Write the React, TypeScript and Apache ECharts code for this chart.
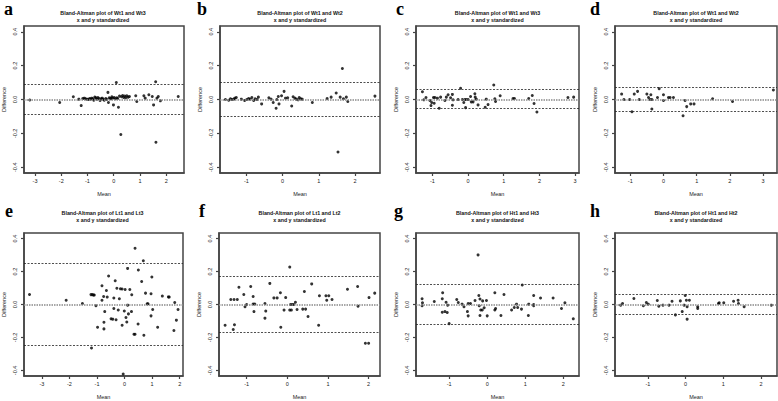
import React, { useEffect, useRef } from 'react';
import * as echarts from 'echarts';

// ---- data: [mean, difference] pairs ----
const wt1wt3A: number[][] = [
  [-3.2, -0.003], [-2.06, -0.018], [-1.54, 0.016], [-1.33, 0.002], [-1.24, -0.036], [-1.18, 0.006],
  [-1.12, 0.008], [-1.08, 0.004], [-1.02, 0.002], [-0.97, 0.0], [-0.92, 0.006], [-0.88, 0.002],
  [-0.84, 0.008], [-0.8, 0.004], [-0.76, -0.004], [-0.72, 0.014], [-0.68, 0.01], [-0.64, 0.002],
  [-0.6, 0.012], [-0.56, 0.006], [-0.52, -0.006], [-0.48, 0.004], [-0.44, 0.008], [-0.4, 0.002],
  [-0.36, -0.004], [-0.3, 0.006], [-0.26, 0.0], [-0.22, 0.042], [-0.2, -0.018], [-0.17, 0.01],
  [-0.13, 0.006], [-0.1, 0.004], [-0.07, 0.016], [-0.04, 0.008], [-0.01, -0.032], [0.02, 0.012],
  [0.06, 0.004], [0.1, 0.1], [0.12, 0.01], [0.15, 0.006], [0.18, -0.046], [0.22, 0.02],
  [0.27, -0.207], [0.3, 0.016], [0.34, 0.024], [0.38, 0.012], [0.42, 0.02], [0.46, 0.01],
  [0.5, 0.022], [0.55, 0.014], [0.6, 0.018], [0.84, 0.022], [0.88, -0.012], [1.15, 0.022],
  [1.2, 0.008], [1.34, 0.028], [1.47, 0.018], [1.52, -0.032], [1.6, 0.105], [1.61, -0.252],
  [1.65, 0.008], [1.7, 0.018], [1.78, -0.008], [2.46, 0.018],
];
const wt1wt2B: number[][] = [
  [-1.58, 0.0], [-1.49, -0.004], [-1.44, 0.004], [-1.4, 0.0], [-1.35, 0.002], [-1.32, 0.008],
  [-1.28, 0.012], [-1.14, 0.002], [-1.05, -0.006], [-0.99, 0.0], [-0.94, 0.006], [-0.9, 0.002],
  [-0.85, 0.012], [-0.8, -0.006], [-0.76, 0.004], [-0.71, 0.0], [-0.67, 0.014], [-0.58, -0.026],
  [-0.38, 0.01], [-0.32, 0.002], [-0.26, -0.018], [-0.18, -0.052], [-0.16, 0.0], [-0.12, 0.018],
  [-0.1, -0.026], [-0.03, 0.022], [0.04, 0.048], [0.08, 0.008], [0.14, 0.01], [0.25, -0.038],
  [0.29, 0.016], [0.34, 0.008], [0.38, 0.002], [0.43, -0.002], [0.46, 0.012], [0.5, 0.004],
  [0.54, 0.002], [0.82, -0.018], [1.23, 0.006], [1.34, 0.014], [1.48, 0.038], [1.53, -0.31],
  [1.59, 0.014], [1.65, 0.183], [1.68, 0.004], [1.76, 0.014], [1.8, -0.012], [2.55, 0.02],
];
const wt1wt3C: number[][] = [
  [-1.28, 0.046], [-1.24, -0.002], [-1.18, 0.012], [-1.07, -0.006], [-1.04, -0.036], [-1.02, -0.018],
  [-0.97, 0.012], [-0.93, 0.012], [-0.95, -0.022], [-0.86, 0.008], [-0.81, -0.052], [-0.77, 0.014],
  [-0.65, -0.006], [-0.61, 0.014], [-0.56, 0.028], [-0.49, 0.01], [-0.44, 0.03], [-0.44, -0.034],
  [-0.42, -0.002], [-0.28, 0.0], [-0.21, 0.066], [-0.16, 0.0], [-0.12, -0.018], [-0.09, 0.0],
  [-0.07, -0.048], [-0.05, 0.0], [0.0, 0.0], [0.07, 0.018], [0.09, -0.014], [0.14, -0.014],
  [0.19, 0.034], [0.2, 0.014], [0.23, 0.002], [0.28, -0.032], [0.48, -0.046], [0.51, 0.002],
  [0.56, -0.03], [0.72, 0.086], [0.75, 0.004], [0.77, -0.012], [0.9, 0.022], [1.26, 0.006],
  [1.3, 0.006], [1.7, 0.006], [1.8, 0.024], [1.85, -0.024], [1.93, -0.074], [2.8, 0.012],
  [2.96, 0.014],
];
const wt1wt2D: number[][] = [
  [-1.26, 0.032], [-1.19, 0.0], [-1.02, 0.0], [-0.95, -0.072], [-0.88, 0.032], [-0.78, 0.048],
  [-0.73, 0.0], [-0.5, 0.032], [-0.45, 0.012], [-0.4, 0.0], [-0.38, 0.028], [-0.35, -0.056],
  [-0.35, 0.0], [-0.18, 0.012], [-0.13, 0.064], [0.0, 0.028], [0.0, -0.006], [0.15, 0.012],
  [0.2, 0.012], [0.3, 0.012], [0.59, -0.096], [0.65, -0.006], [0.7, -0.042], [0.82, -0.026],
  [0.92, -0.026], [1.48, 0.004], [2.08, -0.012], [3.31, 0.056],
];
const lt1lt3E: number[][] = [
  [-3.45, 0.061], [-2.12, 0.026], [-1.53, 0.006], [-1.2, -0.264], [-1.22, 0.06], [-1.17, 0.06],
  [-1.13, 0.058], [-1.1, 0.057], [-1.04, -0.008], [-0.98, -0.138], [-0.82, 0.114], [-0.82, 0.026],
  [-0.76, 0.049], [-0.75, -0.108], [-0.75, -0.148], [-0.72, -0.043], [-0.66, 0.085], [-0.63, 0.045],
  [-0.58, 0.173], [-0.49, -0.087], [-0.43, -0.089], [-0.39, 0.039], [-0.39, -0.024], [-0.34, 0.144],
  [-0.31, -0.093], [-0.28, 0.099], [-0.23, -0.033], [-0.19, 0.035], [-0.15, 0.095], [-0.09, 0.094],
  [-0.09, -0.126], [-0.05, -0.422], [-0.01, -0.039], [0.02, 0.091], [0.05, -0.079], [0.08, -0.106],
  [0.11, 0.219], [0.11, -0.004], [0.14, -0.057], [0.19, 0.091], [0.25, -0.043], [0.26, 0.059],
  [0.34, -0.181], [0.38, -0.181], [0.38, 0.341], [0.49, -0.118], [0.5, 0.209], [0.62, 0.14],
  [0.68, 0.266], [0.7, -0.187], [0.76, 0.069], [0.82, 0.004], [0.85, 0.004], [0.96, 0.065],
  [0.96, -0.069], [0.99, 0.167], [1.02, -0.03], [1.2, -0.138], [1.37, 0.051], [1.59, 0.046],
  [1.62, 0.045], [1.79, -0.158], [1.82, 0.012], [1.88, -0.095], [1.94, -0.03],
];
const lt1lt2F: number[][] = [
  [-1.53, -0.126], [-1.39, 0.03], [-1.31, 0.03], [-1.33, -0.152], [-1.3, -0.123], [-1.23, 0.03],
  [-1.19, 0.105], [-1.07, 0.061], [-1.04, -0.014], [-1.0, 0.0], [-0.9, 0.109], [-0.84, 0.049],
  [-0.84, 0.003], [-0.8, 0.003], [-0.82, -0.043], [-0.55, 0.006], [-0.55, -0.083], [-0.53, -0.04],
  [-0.43, 0.128], [-0.33, 0.04], [-0.25, 0.04], [-0.17, 0.071], [-0.16, -0.138], [-0.08, -0.034],
  [-0.04, 0.042], [0.06, 0.227], [0.06, -0.034], [0.1, -0.034], [0.08, 0.0], [0.12, 0.0],
  [0.16, 0.0], [0.2, 0.014], [0.24, -0.03], [0.38, -0.028], [0.45, -0.028], [0.42, 0.079],
  [0.51, -0.073], [0.6, 0.125], [0.77, -0.126], [0.79, 0.053], [0.95, 0.053], [1.02, 0.053],
  [0.97, 0.026], [1.1, 0.03], [1.48, 0.093], [1.73, 0.109], [1.74, -0.01], [1.92, -0.235],
  [2.0, -0.235], [2.01, 0.042], [2.15, 0.069],
];
const ht1ht3G: number[][] = [
  [-1.71, 0.035], [-1.7, 0.01], [-1.71, -0.008], [-1.39, 0.018], [-1.18, -0.047], [-1.18, 0.035],
  [-1.17, 0.071], [-1.11, -0.043], [-1.08, 0.014], [-1.05, -0.049], [-1.04, -0.004], [-1.0, -0.116],
  [-0.8, 0.03], [-0.76, 0.012], [-0.66, 0.002], [-0.61, -0.014], [-0.52, -0.043], [-0.5, -0.069],
  [-0.5, 0.006], [-0.44, 0.006], [-0.32, 0.024], [-0.24, 0.301], [-0.22, 0.055], [-0.21, -0.008],
  [-0.19, 0.033], [-0.19, -0.067], [-0.17, -0.033], [-0.13, -0.033], [-0.12, 0.022], [-0.08, -0.02],
  [-0.02, 0.024], [0.0, -0.069], [0.2, 0.071], [0.2, -0.033], [0.22, -0.024], [0.36, -0.067],
  [0.44, 0.061], [0.64, -0.033], [0.71, -0.018], [0.77, 0.002], [0.8, -0.018], [0.9, -0.028],
  [0.92, 0.118], [1.08, -0.067], [1.09, 0.002], [1.22, 0.055], [1.22, 0.0], [1.22, -0.008],
  [1.4, 0.039], [1.73, 0.039], [1.95, -0.024], [2.04, 0.01], [2.26, -0.087],
];
const ht1ht2H: number[][] = [
  [-1.72, -0.004], [-1.67, 0.006], [-1.37, 0.036], [-1.12, -0.008], [-1.04, 0.012], [-0.99, 0.002],
  [-0.75, 0.024], [-0.71, -0.01], [-0.6, -0.004], [-0.44, -0.004], [-0.36, 0.02], [-0.27, -0.063],
  [-0.14, 0.022], [-0.09, -0.043], [-0.04, -0.004], [-0.01, 0.055], [0.02, 0.026], [0.04, -0.014],
  [0.04, -0.089], [0.1, 0.026], [0.32, -0.014], [0.32, -0.024], [0.87, 0.006], [0.89, 0.01],
  [1.01, 0.01], [1.27, 0.02], [1.39, 0.026], [1.4, 0.006], [1.55, -0.014], [2.27, -0.004],
];

// limits of agreement: [upper, mean, lower]
const limitsA = [0.094, 0.0, -0.092];
const limitsB = [0.102, 0.0, -0.1];
const limitsC = [0.056, 0.0, -0.052];
const limitsD = [0.068, 0.0, -0.068];
const limitsE = [0.248, 0.0, -0.246];
const limitsF = [0.17, 0.0, -0.168];
const limitsG = [0.118, 0.0, -0.116];
const limitsH = [0.057, 0.0, -0.056];

const xTicksA = [-3, -2, -1, 0, 1, 2];
const xTicksB = [-1, 0, 1, 2];
const xTicksC = [-1, 0, 1, 2, 3];
const xTicksD = [-1, 0, 1, 2, 3];
const xTicksE = [-3, -2, -1, 0, 1, 2];
const xTicksF = [-1, 0, 1, 2];
const xTicksG = [-1, 0, 1, 2];
const xTicksH = [-1, 0, 1, 2];
const yTicks = [-0.4, -0.2, 0, 0.2, 0.4];

const titles = [
  'Bland-Altman plot of Wt1 and Wt3', 'Bland-Altman plot of Wt1 and Wt2',
  'Bland-Altman plot of Wt1 and Wt3', 'Bland-Altman plot of Wt1 and Wt2',
  'Bland-Altman plot of Lt1 and Lt3', 'Bland-Altman plot of Lt1 and Lt2',
  'Bland-Altman plot of Ht1 and Ht3', 'Bland-Altman plot of Ht1 and Ht2',
];
const subtitle = 'x and y standardized';
const letters = ['a', 'b', 'c', 'd', 'e', 'f', 'g', 'h'];

const Y_MIN = -0.434;
const Y_MAX = 0.434;

const panels = [
  { data: wt1wt3A, limits: limitsA, xTicks: xTicksA, xMin: -3.42, xMax: 2.68, left: 22, top: 26, width: 162, height: 147, lx: 4 },
  { data: wt1wt2B, limits: limitsB, xTicks: xTicksB, xMin: -1.73, xMax: 2.69, left: 220, top: 26, width: 160, height: 147, lx: 197 },
  { data: wt1wt3C, limits: limitsC, xTicks: xTicksC, xMin: -1.46, xMax: 3.11, left: 416, top: 26, width: 163, height: 147, lx: 396 },
  { data: wt1wt2D, limits: limitsD, xTicks: xTicksD, xMin: -1.46, xMax: 3.42, left: 615, top: 26, width: 162, height: 147, lx: 590 },
  { data: lt1lt3E, limits: limitsE, xTicks: xTicksE, xMin: -3.65, xMax: 2.12, left: 22, top: 233, width: 161, height: 146, lx: 5 },
  { data: lt1lt2F, limits: limitsF, xTicks: xTicksF, xMin: -1.68, xMax: 2.28, left: 219, top: 233, width: 161, height: 146, lx: 199 },
  { data: ht1ht3G, limits: limitsG, xTicks: xTicksG, xMin: -1.87, xMax: 2.41, left: 416, top: 233, width: 163, height: 146, lx: 394 },
  { data: ht1ht2H, limits: limitsH, xTicks: xTicksH, xMin: -1.87, xMax: 2.42, left: 615, top: 233, width: 162, height: 146, lx: 590 },
];

const FONT = '"Liberation Sans", Arial, Helvetica, sans-serif';
const TXT = '#222';
const BOX = '#444444';

function buildOption(): echarts.EChartsOption {
  const grid: any[] = [];
  const xAxis: any[] = [];
  const yAxis: any[] = [];
  const series: any[] = [];
  const graphic: any[] = [];

  panels.forEach((p, i) => {
    grid.push({
      left: p.left, top: p.top, width: p.width, height: p.height,
      show: true, borderColor: BOX, borderWidth: 1.5, backgroundColor: 'rgba(0,0,0,0)',
    });
    xAxis.push({
      gridIndex: i, type: 'value', min: p.xMin, max: p.xMax, position: 'bottom',
      axisLine: { show: true, onZero: false, lineStyle: { color: BOX, width: 1.5 } },
      axisTick: { show: true, inside: false, customValues: p.xTicks, length: 3, lineStyle: { color: BOX, width: 1.2 } },
      axisLabel: { show: true, customValues: p.xTicks, fontSize: 5.5, margin: 5, color: TXT, fontFamily: FONT, formatter: (v: number) => String(v) },
      splitLine: { show: false },
      name: 'Mean', nameLocation: 'middle', nameGap: 18,
      nameTextStyle: { fontSize: 5.5, color: TXT, fontFamily: FONT },
    });
    yAxis.push({
      gridIndex: i, type: 'value', min: Y_MIN, max: Y_MAX, position: 'left',
      axisLine: { show: true, onZero: false, lineStyle: { color: BOX, width: 1.5 } },
      axisTick: { show: true, inside: false, customValues: yTicks, length: 3, lineStyle: { color: BOX, width: 1.2 } },
      axisLabel: { show: true, customValues: yTicks, fontSize: 5.5, margin: 6, rotate: 90, color: TXT, fontFamily: FONT, formatter: (v: number) => v.toFixed(1) },
      splitLine: { show: false },
      name: 'Difference', nameLocation: 'middle', nameGap: 17, nameRotate: 90,
      nameTextStyle: { fontSize: 5.5, color: TXT, fontFamily: FONT },
    });
  });

  panels.forEach((p, i) => {
    series.push({
      type: 'scatter', xAxisIndex: i, yAxisIndex: i, data: p.data,
      symbol: 'circle', symbolSize: 3, itemStyle: { color: '#000' }, silent: true,
      markLine: {
        silent: true, symbol: ['none', 'none'], label: { show: false },
        data: [
          { yAxis: p.limits[0], lineStyle: { color: '#222', type: [2, 1.5], width: 0.8 } },
          { yAxis: p.limits[1], lineStyle: { color: '#8a8a8a', type: [1.5, 1], width: 1.6 } },
          { yAxis: p.limits[2], lineStyle: { color: '#222', type: [2, 1.5], width: 0.8 } },
        ],
      },
    });
    const cx = p.left + p.width / 2;
    const rowTop = i < 4 ? 0 : 200;
    graphic.push({
      type: 'text', x: cx, y: rowTop + 13,
      style: { text: titles[i], fontSize: 5.3, fontWeight: 'bold', fontFamily: FONT, fill: '#111', align: 'center', verticalAlign: 'middle' },
    });
    graphic.push({
      type: 'text', x: cx, y: rowTop + 19.5,
      style: { text: subtitle, fontSize: 5.3, fontWeight: 'bold', fontFamily: FONT, fill: '#111', align: 'center', verticalAlign: 'middle' },
    });
    graphic.push({
      type: 'text', x: p.lx, y: rowTop + (i < 4 ? 0 : 2),
      style: { text: letters[i], fontSize: 18, fontWeight: 'bold', fontFamily: '"Liberation Serif", "Times New Roman", serif', fill: '#000', align: 'left', verticalAlign: 'top' },
    });
  });

  return {
    animation: false,
    backgroundColor: '#fff',
    grid, xAxis, yAxis, series, graphic,
  } as any;
}

export default function App() {
  const ref = useRef<HTMLDivElement>(null);
  useEffect(() => {
    if (!ref.current) return;
    const chart = echarts.init(ref.current, undefined, { renderer: 'svg' });
    chart.setOption(buildOption());
    return () => chart.dispose();
  }, []);
  return <div ref={ref} style={{ position: 'fixed', left: 0, top: 0, width: 778, height: 401, background: '#fff' }} />;
}
